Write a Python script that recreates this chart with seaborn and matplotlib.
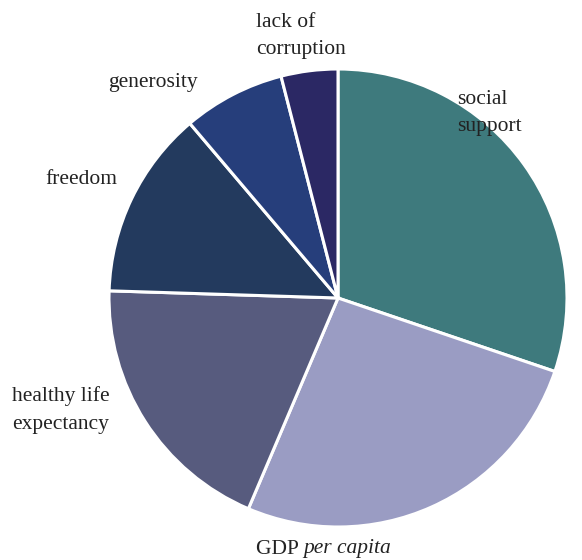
import matplotlib
matplotlib.use("Agg")
import matplotlib.pyplot as plt
import seaborn as sns

categories = ["social support", "GDP per capita", "healthy life expectancy",
              "freedom", "generosity", "lack of corruption"]
shares = [30.2, 26.2, 19.1, 13.3, 7.2, 4.0]
colors = ["#3E7A7D", "#9A9CC3", "#575B7E", "#233A5E", "#263E7B", "#2B2864"]

sns.set_theme(style="white")
plt.rcParams["font.family"] = ["Liberation Serif", "DejaVu Serif"]

W, H = 582, 560
fig = plt.figure(figsize=(W / 100, H / 100), dpi=100)
cx, cy, r = 338, 298, 229
ax = fig.add_axes([(cx - r) / W, (H - cy - r) / H, 2 * r / W, 2 * r / H])
ax.pie(shares, colors=sns.color_palette(colors), startangle=90, counterclock=False,
       wedgeprops=dict(edgecolor="white", linewidth=2.2))
ax.set_xlim(-1, 1)
ax.set_ylim(-1, 1)
ax.set_axis_off()

fs = 15.5
def lab(x, y, s, ha="left", **kw):
    fig.text(x / W, 1 - y / H, s, ha=ha, va="center", fontsize=fs,
             color="#222222", linespacing=1.6, **kw)

lab(256, 36, "lack of\ncorruption")
lab(108, 83, "generosity")
lab(457, 113, "social\nsupport")
lab(45, 180, "freedom")
lab(12, 410, "healthy life\nexpectancy")
# GDP per capita with italic part
t1 = fig.text(256 / W, 1 - 549 / H, "GDP ", ha="left", va="center", fontsize=fs, color="#222222")
fig.canvas.draw()
bb = t1.get_window_extent()
fig.text(bb.x1 / W, 1 - 549 / H, "per capita", ha="left", va="center", fontsize=fs,
         color="#222222", style="italic")

fig.savefig("out.png", dpi=100)
